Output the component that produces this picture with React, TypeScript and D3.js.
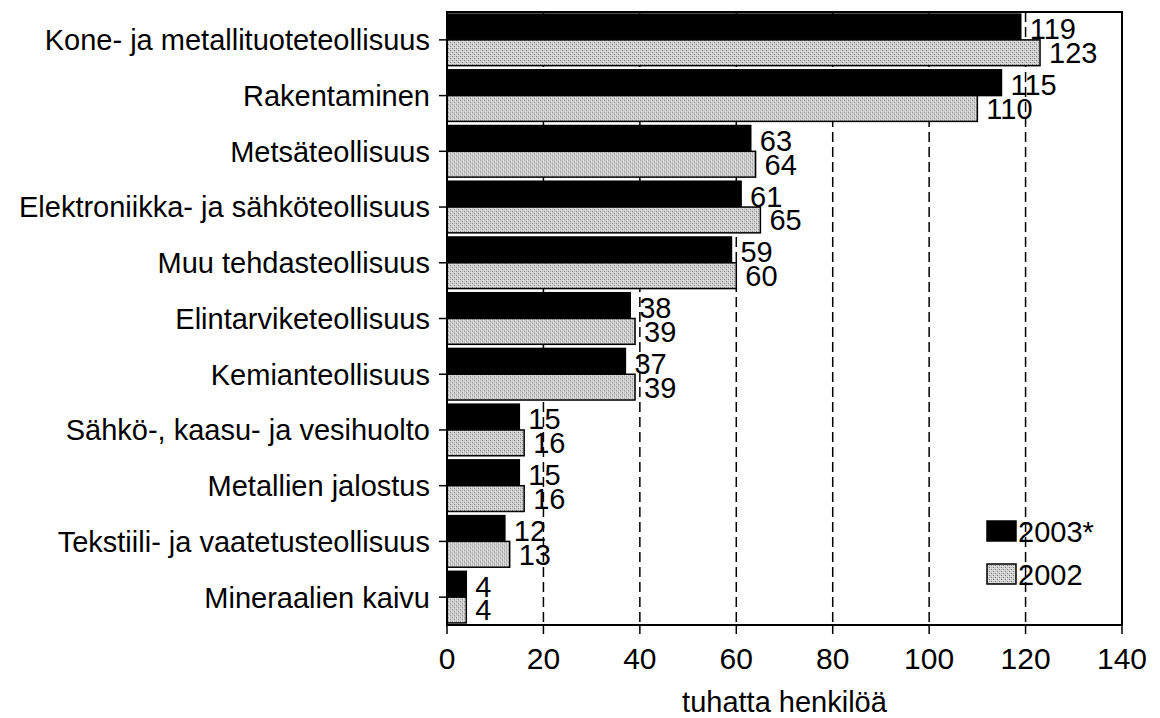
import React, { useEffect, useRef } from 'react';
import * as d3 from 'd3';

const categories = [
    'Kone- ja metallituoteteollisuus',
    'Rakentaminen',
    'Metsäteollisuus',
    'Elektroniikka- ja sähköteollisuus',
    'Muu tehdasteollisuus',
    'Elintarviketeollisuus',
    'Kemianteollisuus',
    'Sähkö-, kaasu- ja vesihuolto',
    'Metallien jalostus',
    'Tekstiili- ja vaatetusteollisuus',
    'Mineraalien kaivu'
];

const values2003 = [119, 115, 63, 61, 59, 38, 37, 15, 15, 12, 4];
const values2002 = [123, 110, 64, 65, 60, 39, 39, 16, 16, 13, 4];

const seriesNames = ['2003*', '2002'];
const xTicks = [0, 20, 40, 60, 80, 100, 120, 140];
const axisTitle = 'tuhatta henkilöä';

const App: React.FC = () => {
    const svgRef = useRef<SVGSVGElement>(null);

    useEffect(() => {
        if (!svgRef.current) return;
        const svg = d3.select(svgRef.current);
        svg.selectAll('*').remove();

        const font = 'Liberation Sans, Arial, sans-serif';
        const left = 447, right = 1122, top = 12, bottom = 625;

        // stippled grey fill like the scanned original
        const defs = svg.append('defs');
        const pat = defs.append('pattern')
            .attr('id', 'stipple')
            .attr('patternUnits', 'userSpaceOnUse')
            .attr('width', 4)
            .attr('height', 4);
        pat.append('rect').attr('width', 4).attr('height', 4).attr('fill', '#d4d4d4');
        [[0, 0, '#7a7a7a'], [2, 2, '#7a7a7a'], [2, 0, '#a8a8a8'], [0, 2, '#b8b8b8'], [1, 3, '#eeeeee'], [3, 1, '#eeeeee']]
            .forEach(([x, y, c]) => {
                pat.append('rect').attr('x', x).attr('y', y).attr('width', 1).attr('height', 1).attr('fill', c as string);
            });

        const x = d3.scaleLinear().domain([0, 140]).range([left, right]);
        const y = d3.scaleBand<string>().domain(categories).range([top, bottom]);
        const inner = d3.scaleBand<string>().domain(seriesNames).range([0, y.bandwidth()]).paddingOuter(0.08);

        // dashed grid
        svg.append('g')
            .selectAll('line')
            .data(xTicks.filter(t => t > 0 && t < 140))
            .join('line')
            .attr('x1', d => x(d)).attr('x2', d => x(d))
            .attr('y1', top).attr('y2', bottom)
            .attr('stroke', '#000')
            .attr('stroke-width', 1.5)
            .attr('stroke-dasharray', '10 5');

        const rows = categories.map((c, i) => ({ c, v: [values2003[i], values2002[i]] }));

        const group = svg.append('g')
            .selectAll('g')
            .data(rows)
            .join('g')
            .attr('transform', d => `translate(0,${y(d.c)})`);

        seriesNames.forEach((s, si) => {
            group.append('rect')
                .attr('x', x(0))
                .attr('y', inner(s)!)
                .attr('width', d => x(d.v[si]) - x(0))
                .attr('height', inner.bandwidth())
                .attr('fill', si === 0 ? '#000' : 'url(#stipple)')
                .attr('stroke', '#000')
                .attr('stroke-width', 1.5);

            group.append('text')
                .attr('x', d => x(d.v[si]) + 9)
                .attr('y', inner(s)! + inner.bandwidth() / 2 + (si === 0 ? 2 : 0))
                .attr('dy', '0.36em')
                .attr('font-family', font)
                .attr('font-size', 29)
                .attr('fill', '#000')
                .text(d => d.v[si]);
        });

        // frame
        svg.append('rect')
            .attr('x', left).attr('y', top)
            .attr('width', right - left).attr('height', bottom - top)
            .attr('fill', 'none')
            .attr('stroke', '#000')
            .attr('stroke-width', 2);

        // category axis
        const yAxis = svg.append('g');
        yAxis.selectAll('line')
            .data(categories)
            .join('line')
            .attr('x1', left - 8).attr('x2', left)
            .attr('y1', d => y(d)! + y.bandwidth() / 2)
            .attr('y2', d => y(d)! + y.bandwidth() / 2)
            .attr('stroke', '#000').attr('stroke-width', 1.5);
        yAxis.selectAll('text')
            .data(categories)
            .join('text')
            .attr('x', left - 17)
            .attr('y', d => y(d)! + y.bandwidth() / 2)
            .attr('dy', '0.36em')
            .attr('text-anchor', 'end')
            .attr('font-family', font)
            .attr('font-size', 29)
            .text(d => d);

        // value axis
        const xAxis = svg.append('g');
        xAxis.selectAll('line')
            .data(xTicks)
            .join('line')
            .attr('x1', d => x(d)).attr('x2', d => x(d))
            .attr('y1', bottom).attr('y2', bottom + 9)
            .attr('stroke', '#000').attr('stroke-width', 1.5);
        xAxis.selectAll('text')
            .data(xTicks)
            .join('text')
            .attr('x', d => x(d))
            .attr('y', 669)
            .attr('text-anchor', 'middle')
            .attr('font-family', font)
            .attr('font-size', 30)
            .text(d => d);

        svg.append('text')
            .attr('x', (left + right) / 2)
            .attr('y', 712)
            .attr('text-anchor', 'middle')
            .attr('font-family', font)
            .attr('font-size', 29)
            .text(axisTitle);

        // legend
        const legend = svg.append('g').attr('transform', 'translate(987,521)');
        seriesNames.forEach((s, i) => {
            legend.append('rect')
                .attr('x', 0).attr('y', i * 43)
                .attr('width', 29).attr('height', 20)
                .attr('fill', i === 0 ? '#000' : 'url(#stipple)')
                .attr('stroke', '#000').attr('stroke-width', 1.5);
            legend.append('text')
                .attr('x', 31).attr('y', i * 43 + 21)
                .attr('font-family', font)
                .attr('font-size', 29)
                .text(s);
        });
    }, []);

    return (
        <svg ref={svgRef} width={1160} height={718}
            style={{ position: 'absolute', left: 0, top: 0, background: '#fff' }} />
    );
};

export default App;
